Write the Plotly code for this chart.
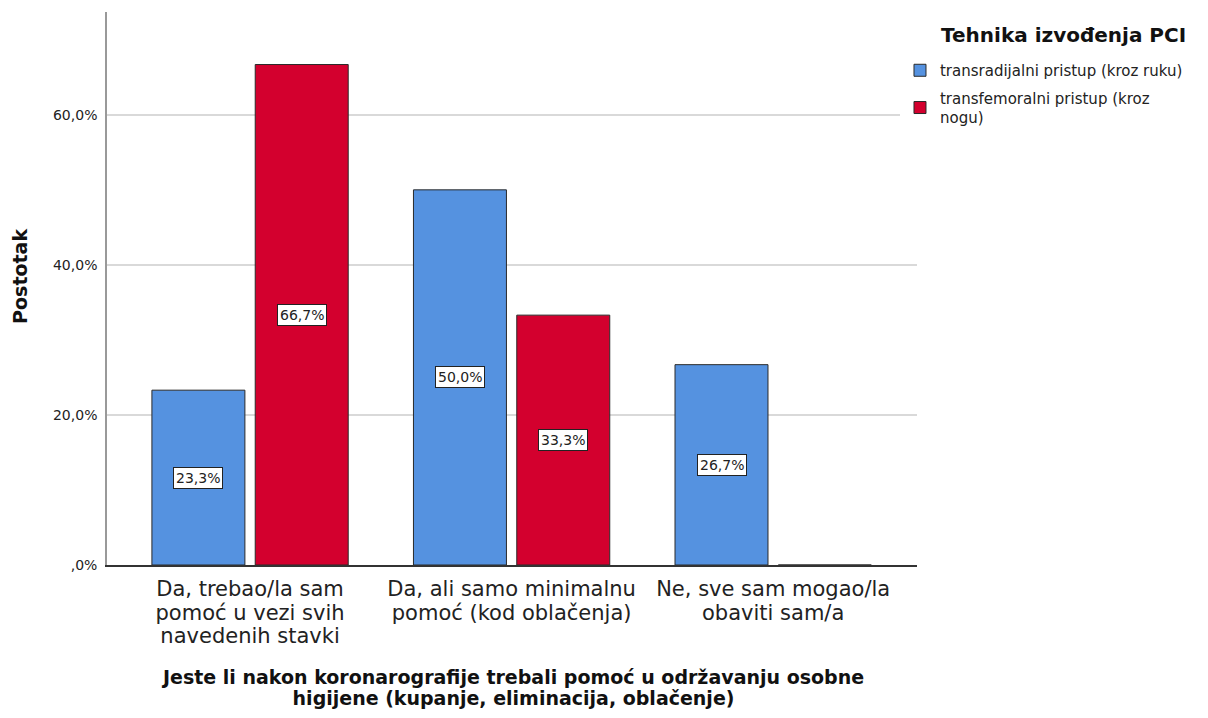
import plotly.graph_objects as go

categories = ["Da, trebao/la sam<br>pomoć u vezi svih<br>navedenih stavki",
              "Da, ali samo minimalnu<br>pomoć (kod oblačenja)",
              "Ne, sve sam mogao/la<br>obaviti sam/a"]
series_names = ["transradijalni pristup (kroz ruku)",
                "transfemoralni pristup (kroz<br>nogu)"]
radial = [23.3, 50.0, 26.7]
femoral = [66.7, 33.3, 0.0]
colors = ["#5592E0", "#D3002E"]
tick_vals = [0, 20, 40, 60]
tick_text = [",0%", "20,0%", "40,0%", "60,0%"]
x_title = "Jeste li nakon koronarografije trebali pomoć u održavanju osobne<br>higijene (kupanje, eliminacija, oblačenje)"
y_title = "Postotak"
legend_title = "Tehnika izvođenja PCI"

FONT = "DejaVu Sans, sans-serif"
bargap = 0.21
bargroupgap = 0.1


def tight(text, size, bold=False):
    parts = []
    for line in text.split("<br>"):
        s = "<span style='font-size:%dpx'>%s</span>" % (size, line)
        parts.append("<b>%s</b>" % s if bold else s)
    return "<br>".join(parts)


fig = go.Figure()
xs = list(range(len(categories)))
for k, (name, vals, col) in enumerate(zip(series_names, [radial, femoral], colors)):
    fig.add_trace(go.Bar(x=xs, y=vals, name=name, legendgroup="g%d" % k,
                         marker=dict(color=col, line=dict(color="#2a2a2a", width=1))))

slot = (1 - bargap) / 2
for si, vals in enumerate([radial, femoral]):
    off = (si - 0.5) * slot
    for i, v in enumerate(vals):
        if v <= 0:
            continue
        fig.add_annotation(x=i + off, y=v / 2, text=("%.1f%%" % v).replace(".", ","),
                           showarrow=False, bgcolor="white", bordercolor="#222",
                           borderwidth=1, borderpad=2,
                           font=dict(family=FONT, size=14, color="#222"))

# axis titles and legend title as paper annotations
fig.add_annotation(xref="paper", yref="paper", x=0, xshift=-87, y=0.521,
                   xanchor="center", yanchor="middle",
                   text="<b>%s</b>" % y_title, textangle=-90, showarrow=False,
                   font=dict(size=19, family=FONT, color="#111"))
fig.add_annotation(xref="paper", yref="paper", x=0.5, y=-0.2215,
                   xanchor="center", yanchor="middle",
                   text=tight(x_title, 19, bold=True), showarrow=False,
                   font=dict(size=16, family=FONT, color="#111"))
fig.add_annotation(xref="paper", yref="paper", x=1.181, y=0.958,
                   xanchor="center", yanchor="middle",
                   text="<b>%s</b>" % legend_title, showarrow=False,
                   font=dict(size=20, family=FONT, color="#111"))

W, H = 1200, 702
fig.update_layout(
    width=W, height=H,
    paper_bgcolor="white", plot_bgcolor="white",
    margin=dict(l=99, r=W - 909, t=4, b=H - 557),
    barmode="group", bargap=bargap, bargroupgap=bargroupgap,
    font=dict(family=FONT, color="#222"),
    legend=dict(x=0.979, xanchor="left", y=0.924, yanchor="top",
                font=dict(size=15, family=FONT, color="#222"),
                tracegroupgap=5, itemwidth=30),
    xaxis=dict(tickmode="array", tickvals=xs,
               ticktext=[tight(c, 21) for c in categories],
               range=[-0.547, 2.55], showgrid=False, automargin=False,
               showline=True, linecolor="#333", linewidth=1.5,
               ticks="outside", ticklen=8, tickcolor="rgba(0,0,0,0)",
               tickfont=dict(size=18, family=FONT, color="#222")),
    yaxis=dict(range=[0, 73.7], tickmode="array", tickvals=tick_vals, ticktext=tick_text,
               showgrid=True, gridcolor="#d9d9d9", gridwidth=1.5, zeroline=False,
               showline=True, linecolor="#999", linewidth=1.5, automargin=False,
               ticks="outside", ticklen=5, tickcolor="rgba(0,0,0,0)",
               tickfont=dict(size=14, family=FONT, color="#222")),
)

fig.write_html("out.html")
